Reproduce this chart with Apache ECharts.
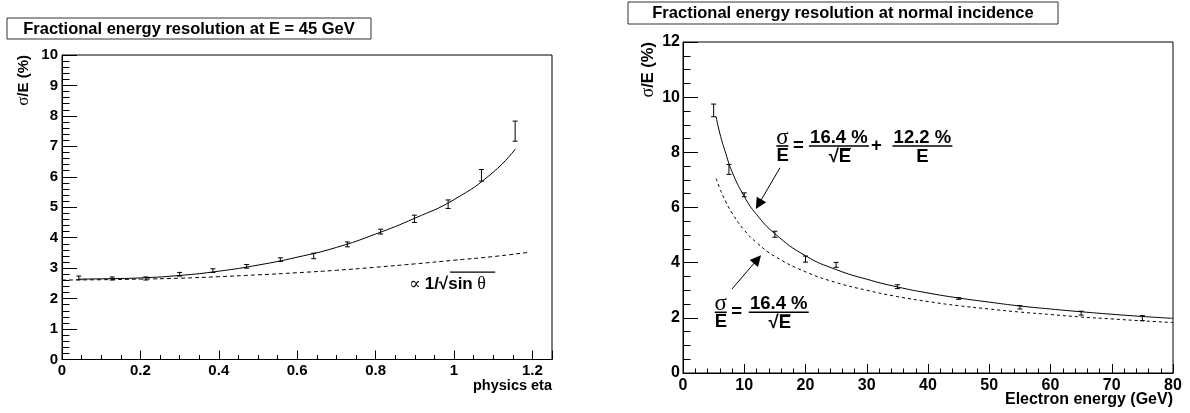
<!DOCTYPE html>
<html>
<head>
<meta charset="utf-8">
<script src="https://cdn.jsdelivr.net/npm/echarts@6/dist/echarts.min.js"></script>
<style>
  html, body { margin: 0; background: #fff; }
  #chart { width: 1190px; height: 413px; }
</style>
</head>
<body>
<div id="chart"></div>
<script>
// left: resolution vs eta at 45 GeV
const etaBins = [0.043, 0.128, 0.214, 0.300, 0.385, 0.471, 0.557, 0.642, 0.728, 0.813, 0.899, 0.985, 1.070, 1.156];
const etaRes  = [2.68, 2.66, 2.66, 2.80, 2.92, 3.06, 3.28, 3.40, 3.78, 4.20, 4.62, 5.10, 6.05, 7.50];
const etaErr  = [0.06, 0.05, 0.05, 0.06, 0.06, 0.06, 0.06, 0.09, 0.08, 0.08, 0.12, 0.14, 0.19, 0.33];
const etaFitX = [0.043, 0.1, 0.2, 0.3, 0.4, 0.5, 0.6, 0.7, 0.8, 0.9, 1.0, 1.1, 1.157];
const etaFitY = [2.64, 2.65, 2.68, 2.76, 2.90, 3.10, 3.36, 3.68, 4.12, 4.64, 5.25, 6.15, 6.92];
const etaSinX = [0.0, 0.1, 0.2, 0.3, 0.4, 0.5, 0.6, 0.7, 0.8, 0.9, 1.0, 1.1, 1.19];
const etaSinY = [2.61, 2.62, 2.64, 2.67, 2.72, 2.78, 2.85, 2.93, 3.03, 3.14, 3.26, 3.38, 3.52];

// right: resolution vs energy at normal incidence
const energyBins = [5, 7.5, 10, 15, 20, 25, 35, 45, 55, 65, 75];
const energyRes  = [9.52, 7.38, 6.46, 5.03, 4.13, 3.92, 3.13, 2.70, 2.38, 2.17, 1.99];
const energyErr  = [0.23, 0.18, 0.07, 0.11, 0.11, 0.09, 0.07, 0.03, 0.06, 0.07, 0.09];
const energyFitX = [5.4, 6, 7, 8, 10, 12, 15, 20, 25, 30, 35, 40, 45, 50, 55, 60, 65, 70, 75, 80];
const energyFitY = [9.3, 8.7, 7.95, 7.3, 6.4, 5.75, 5.05, 4.25, 3.75, 3.4, 3.12, 2.9, 2.72, 2.57, 2.43, 2.32, 2.22, 2.13, 2.05, 1.98];
const energyStochY = [7.05, 6.7, 6.2, 5.8, 5.18, 4.73, 4.23, 3.67, 3.28, 3.0, 2.77, 2.59, 2.44, 2.32, 2.21, 2.12, 2.03, 1.96, 1.89, 1.83];

const SANS = '"Liberation Sans", Arial, sans-serif';
const SERIF = '"Liberation Serif", "DejaVu Serif", serif';

const chart = echarts.init(document.getElementById('chart'));

function pairs(xs, ys) { return xs.map((x, i) => [x, ys[i]]); }

function errorBar(params, api) {
  const x = api.value(0), y = api.value(1), e = api.value(2);
  const a = api.coord([x, y + e]);
  const b = api.coord([x, y - e]);
  const c = 2.5;
  const st = { stroke: '#000', lineWidth: 1 };
  return {
    type: 'group',
    children: [
      { type: 'line', shape: { x1: a[0], y1: a[1], x2: b[0], y2: b[1] }, style: st },
      { type: 'line', shape: { x1: a[0] - c, y1: a[1], x2: a[0] + c, y2: a[1] }, style: st },
      { type: 'line', shape: { x1: b[0] - c, y1: b[1], x2: b[0] + c, y2: b[1] }, style: st }
    ]
  };
}

function valueAxis(gi, min, max, interval, minorSplit, tickLen, fontSize, margin) {
  return {
    type: 'value', gridIndex: gi, min: min, max: max, interval: interval,
    axisLine: { show: true, onZero: false, lineStyle: { color: '#000', width: 1 } },
    axisTick: { show: true, inside: true, length: tickLen, lineStyle: { color: '#000', width: 1 } },
    minorTick: { show: true, splitNumber: minorSplit, length: tickLen / 2, lineStyle: { color: '#000', width: 1 } },
    splitLine: { show: false },
    axisLabel: { color: '#000', fontFamily: SANS, fontWeight: 'bold', fontSize: fontSize, margin: margin, showMaxLabel: true }
  };
}

const xLeft = valueAxis(0, 0, 1.25, 0.2, 4, 9, 15, 4);
xLeft.axisLabel.showMaxLabel = false;

chart.setOption({
  animation: false,
  backgroundColor: '#fff',
  grid: [
    { left: 62, top: 55, width: 490, height: 304.5, show: true, borderColor: '#000', borderWidth: 1, backgroundColor: 'transparent' },
    { left: 683, top: 42, width: 490, height: 331, show: true, borderColor: '#000', borderWidth: 1, backgroundColor: 'transparent' }
  ],
  xAxis: [
    xLeft,
    valueAxis(1, 0, 80, 10, 5, 9, 16, 5)
  ],
  yAxis: [
    valueAxis(0, 0, 10, 1, 5, 15, 15, 4),
    valueAxis(1, 0, 12, 2, 4, 15, 16, 3)
  ],
  series: [
    {
      type: 'line', xAxisIndex: 0, yAxisIndex: 0, data: pairs(etaSinX, etaSinY),
      showSymbol: false, smooth: true, silent: true,
      lineStyle: { color: '#000', width: 1, type: [4, 3] }
    },
    {
      type: 'line', xAxisIndex: 0, yAxisIndex: 0, data: pairs(etaFitX, etaFitY),
      showSymbol: false, smooth: true, silent: true,
      lineStyle: { color: '#000', width: 1 }
    },
    {
      type: 'custom', xAxisIndex: 0, yAxisIndex: 0, renderItem: errorBar,
      data: etaBins.map((x, i) => [x, etaRes[i], etaErr[i]]), encode: { x: 0, y: 1 }, z: 5
    },
    {
      type: 'line', xAxisIndex: 1, yAxisIndex: 1, data: pairs(energyFitX, energyStochY),
      showSymbol: false, smooth: true, silent: true,
      lineStyle: { color: '#000', width: 1, type: [3, 3] }
    },
    {
      type: 'line', xAxisIndex: 1, yAxisIndex: 1, data: pairs(energyFitX, energyFitY),
      showSymbol: false, smooth: true, silent: true,
      lineStyle: { color: '#000', width: 1 },
      markLine: {
        silent: true, animation: false,
        symbol: ['none', 'triangle'], symbolSize: 11,
        label: { show: false },
        lineStyle: { color: '#000', width: 1, type: 'solid', opacity: 1 },
        itemStyle: { color: '#000' },
        data: [
          [{ coord: [15.84, 7.44] }, { coord: [12.35, 6.12] }],
          [{ coord: [7.98, 3.04] }, { coord: [12.15, 4.12] }]
        ]
      }
    },
    {
      type: 'custom', xAxisIndex: 1, yAxisIndex: 1, renderItem: errorBar,
      data: energyBins.map((x, i) => [x, energyRes[i], energyErr[i]]), encode: { x: 0, y: 1 }, z: 5
    }
  ]
});

// annotations, placed from data anchors
function px(g, p) { return chart.convertToPixel({ gridIndex: g }, p); }
function txt(x, y, text, extra) {
  return { type: 'text', x: x, y: y, z: 10, style: Object.assign({
    text: text, fill: '#000', font: 'bold 18.5px ' + SANS, align: 'center', verticalAlign: 'middle'
  }, extra || {}) };
}
function seg(x1, y1, x2, y2, w) {
  return { type: 'line', z: 10, shape: { x1: x1, y1: y1, x2: x2, y2: y2 }, style: { stroke: '#000', lineWidth: w || 1.6 } };
}
function sigmaOverE(ax, ay) {
  return [
    txt(ax + 6, ay - 8.5, 'σ', { font: '23px ' + SERIF }),
    seg(ax, ay, ax + 12, ay),
    txt(ax + 6.2, ay + 9.5, 'E'),
    txt(ax + 22, ay, '=')
  ];
}
function fracSqrt(cx, ay, w) {
  return [
    txt(cx, ay - 8.5, '16.4 %'),
    seg(cx - w / 2, ay, cx + w / 2, ay),
    txt(cx + 1, ay + 10.5, '√E'),
    seg(cx + 1, ay + 2.6, cx + 12, ay + 2.6, 1.3)
  ];
}

const g = [];
// title boxes
g.push({ type: 'rect', shape: { x: 7, y: 18, width: 364, height: 21 }, style: { fill: '#fff', stroke: '#333', lineWidth: 1 } });
g.push(txt(189, 29, 'Fractional energy resolution at E = 45 GeV', { font: 'bold 16.5px ' + SANS }));
g.push({ type: 'rect', shape: { x: 628, y: 2, width: 430, height: 22 }, style: { fill: '#fff', stroke: '#333', lineWidth: 1 } });
g.push(txt(843, 13.5, 'Fractional energy resolution at normal incidence', { font: 'bold 16.5px ' + SANS }));

// axis titles
g.push({ type: 'text', x: 24, y: 55, rotation: Math.PI / 2, style: {
  text: '{s|σ}{b|/E (%)}', align: 'right', verticalAlign: 'middle',
  rich: { s: { font: '17px ' + SERIF, fill: '#000' }, b: { font: 'bold 15px ' + SANS, fill: '#000' } }
} });
g.push({ type: 'text', x: 648, y: 42, rotation: Math.PI / 2, style: {
  text: '{s|σ}{b|/E (%)}', align: 'right', verticalAlign: 'middle',
  rich: { s: { font: '18px ' + SERIF, fill: '#000' }, b: { font: 'bold 16.5px ' + SANS, fill: '#000' } }
} });
g.push(txt(552, 386, 'physics eta', { font: 'bold 14.5px ' + SANS, align: 'right' }));
g.push(txt(1173, 400, 'Electron energy (GeV)', { font: 'bold 16px ' + SANS, align: 'right' }));

// left label: proportional to 1/sqrt(sin theta)
const lp = px(0, [0.885, 2.46]);
g.push({ type: 'text', x: lp[0], y: lp[1], z: 10, style: {
  text: '{n|∝ }{b|1/√sin}{t| θ}', align: 'left', verticalAlign: 'middle',
  rich: {
    n: { font: '17px ' + SERIF, fill: '#000' },
    b: { font: 'bold 17px ' + SANS, fill: '#000' },
    t: { font: '18px ' + SERIF, fill: '#000' }
  }
} });
const ol1 = px(0, [0.99, 2.87]), ol2 = px(0, [1.105, 2.87]);
g.push(seg(ol1[0], ol1[1], ol2[0], ol2[1], 1.2));

// right: full formula
const f1 = px(1, [15.25, 8.23]);
const a1 = f1[0], b1 = f1[1];
g.push.apply(g, sigmaOverE(a1, b1));
g.push.apply(g, fracSqrt(a1 + 62.5, b1, 60));
g.push(txt(a1 + 100, b1, '+'));
g.push(txt(a1 + 146, b1 - 8.5, '12.2 %'));
g.push(seg(a1 + 116, b1, a1 + 176, b1));
g.push(txt(a1 + 146, b1 + 10.5, 'E'));

// right: stochastic term only
const f2 = px(1, [5.18, 2.20]);
const a2 = f2[0], b2 = f2[1];
g.push.apply(g, sigmaOverE(a2, b2));
g.push.apply(g, fracSqrt(a2 + 64, b2, 60));

chart.setOption({ graphic: g });
</script>
</body>
</html>
